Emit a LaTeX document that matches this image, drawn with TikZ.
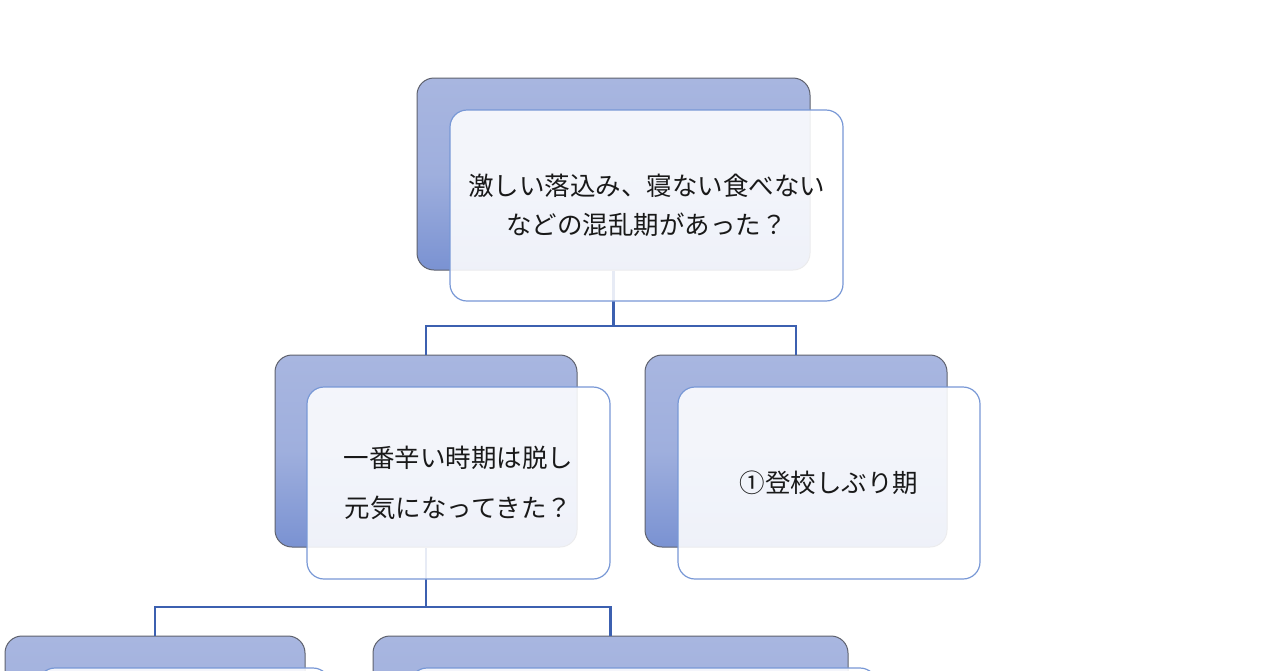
\documentclass[tikz,border=0pt]{standalone}
\usepackage{fontspec}
\newfontfamily\jp{Noto Sans CJK JP}
\usetikzlibrary{positioning}
\definecolor{backtop}{RGB}{168,182,224}
\definecolor{backbot}{RGB}{122,146,210}
\definecolor{backedge}{RGB}{95,98,110}
\definecolor{frontedge}{RGB}{120,152,214}
\definecolor{conn}{RGB}{60,96,176}
\tikzset{
  backbox/.style={draw=backedge, line width=1pt, rounded corners=17pt, top color=backtop, bottom color=backbot, middle color=backtop!80!backbot, inner sep=0pt},
  frontbox/.style={draw=frontedge, line width=1.2pt, rounded corners=17pt, fill=white, fill opacity=0.88, text opacity=1, inner sep=0pt, align=center, text=black!90},
  link/.style={draw=conn, line width=2.8pt},
}
\begin{document}
\begin{tikzpicture}[x=1pt,y=-1pt]
\useasboundingbox (0,0) rectangle (1280,670);
\clip (0,0) rectangle (1280,670);
\fill[white] (0,0) rectangle (1280,670);
% junctions
\coordinate (j1) at (613.5,326);
\coordinate (j2) at (426,607);
% back boxes
\node[backbox, minimum width=393pt, minimum height=192pt] (b1) at (613.5,174) {};
\node[backbox, minimum width=302pt, minimum height=192pt] (b2) at (426,451) {};
\node[backbox, minimum width=302pt, minimum height=192pt] (b3) at (796,451) {};
\node[backbox, minimum width=300pt, minimum height=192pt] (b4) at (155,732) {};
\node[backbox, minimum width=475pt, minimum height=192pt] (b5) at (610.5,732) {};
% connectors
\draw[link] (b1.south) -- (j1) -| (b2.north);
\draw[link] (j1) -| (b3.north);
\draw[link] (b2.south) -- (j2) -| (b4.north);
\draw[link] (j2) -| (b5.north);
% front boxes
\node[frontbox, minimum width=393pt, minimum height=191pt, font=\jp\fontsize{25.5}{39}\selectfont] (f1) at (646.5,205.5)
  {激しい落込み、寝ない食べない\\ などの混乱期があった？};
\node[frontbox, minimum width=303pt, minimum height=192pt, font=\jp\fontsize{25.5}{50}\selectfont] (f2) at (458.5,483)
  {一番辛い時期は脱し\\ 元気になってきた？};
\node[frontbox, minimum width=302pt, minimum height=192pt, font=\jp\fontsize{25.5}{30}\selectfont] (f3) at (829,483)
  {①登校しぶり期};
\node[frontbox, minimum width=292pt, minimum height=192pt] (f4) at (184,764) {};
\node[frontbox, minimum width=467pt, minimum height=192pt] (f5) at (643.5,764) {};
\end{tikzpicture}
\end{document}
